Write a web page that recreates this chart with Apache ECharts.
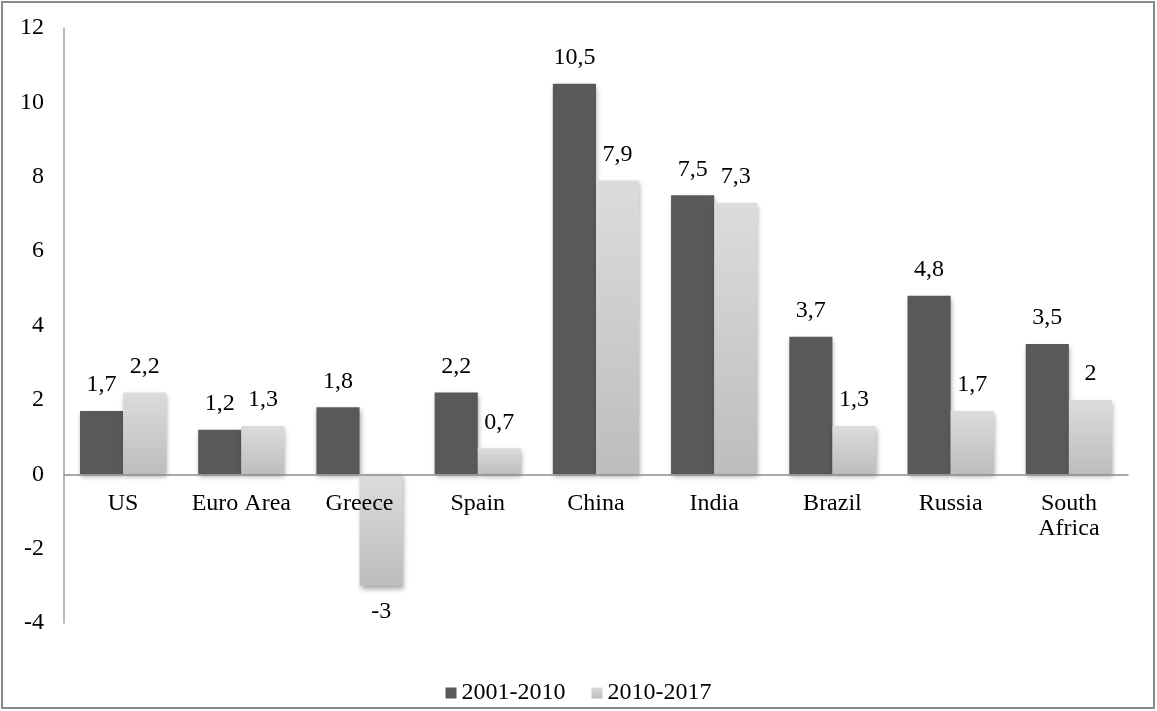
<!DOCTYPE html>
<html>
<head>
<meta charset="utf-8">
<script src="https://cdn.jsdelivr.net/npm/echarts@6/dist/echarts.min.js"></script>
<style>
html,body{margin:0;padding:0;background:#fff;}
#c{width:1157px;height:711px;}
</style>
</head>
<body>
<div id="c"></div>
<script>
const categories = ['US','Euro Area','Greece','Spain','China','India','Brazil','Russia','South\nAfrica'];
const series1Name = '2001-2010';
const series2Name = '2010-2017';
const series1 = [1.7, 1.2, 1.8, 2.2, 10.5, 7.5, 3.7, 4.8, 3.5];
const series2 = [2.2, 1.3, -3, 0.7, 7.9, 7.3, 1.3, 1.7, 2];
const yTicks = {min: -4, max: 12, interval: 2};

const FONT = '"Liberation Serif", "Times New Roman", serif';
const FS = 24;
const fmt = v => String(v).replace('.', ',');
const toData = arr => arr.map(v => v < 0 ? {value: v, label: {position: 'bottom'}} : v);

const chart = echarts.init(document.getElementById('c'), null, {renderer: 'canvas'});
const lightGrad = new echarts.graphic.LinearGradient(0, 0, 0, 1, [
  {offset: 0, color: '#dcdcdc'},
  {offset: 1, color: '#bdbdbd'}
]);
const barShadow = {shadowBlur: 5, shadowOffsetX: 1, shadowOffsetY: 3, shadowColor: 'rgba(0,0,0,0.35)'};

chart.setOption({
  animation: false,
  backgroundColor: '#fff',
  textStyle: {fontFamily: FONT, color: '#000', fontSize: FS},
  graphic: [{
    type: 'rect',
    shape: {x: 2, y: 2, width: 1152, height: 706},
    style: {fill: 'none', stroke: '#8a8a8a', lineWidth: 2},
    silent: true, z: -10
  }],
  grid: {left: 64, right: 29, top: 28, bottom: 88},
  legend: {
    top: 676, left: 'center',
    itemWidth: 11, itemHeight: 11, itemGap: 26,
    textStyle: {fontFamily: FONT, fontSize: FS, color: '#000'},
    data: [
      {name: series1Name, icon: 'rect'},
      {name: series2Name, icon: 'rect'}
    ]
  },
  xAxis: {
    type: 'category',
    z: 10,
    data: categories,
    axisLine: {onZero: true, lineStyle: {color: '#8c8c8c', width: 1.5}},
    axisTick: {show: false},
    axisLabel: {fontFamily: FONT, fontSize: FS, color: '#000', margin: -132, interval: 0, lineHeight: 25, verticalAlign: 'top'}
  },
  yAxis: {
    type: 'value',
    min: yTicks.min, max: yTicks.max, interval: yTicks.interval,
    axisLine: {show: true, lineStyle: {color: '#a0a0a0', width: 1.5}},
    axisTick: {show: false},
    splitLine: {show: false},
    axisLabel: {fontFamily: FONT, fontSize: FS, color: '#000', margin: 20}
  },
  series: [
    {
      name: series1Name, type: 'bar', data: toData(series1),
      barGap: '0%', barCategoryGap: '27%',
      itemStyle: Object.assign({color: '#595959'}, barShadow),
      label: {show: true, position: 'top', distance: 14, fontFamily: FONT, fontSize: FS, color: '#000', formatter: p => fmt(p.value)}
    },
    {
      name: series2Name, type: 'bar', data: toData(series2),
      barGap: '0%', barCategoryGap: '27%',
      itemStyle: Object.assign({color: lightGrad}, barShadow),
      label: {show: true, position: 'top', distance: 14, fontFamily: FONT, fontSize: FS, color: '#000', formatter: p => fmt(p.value)}
    }
  ]
});
</script>
</body>
</html>
